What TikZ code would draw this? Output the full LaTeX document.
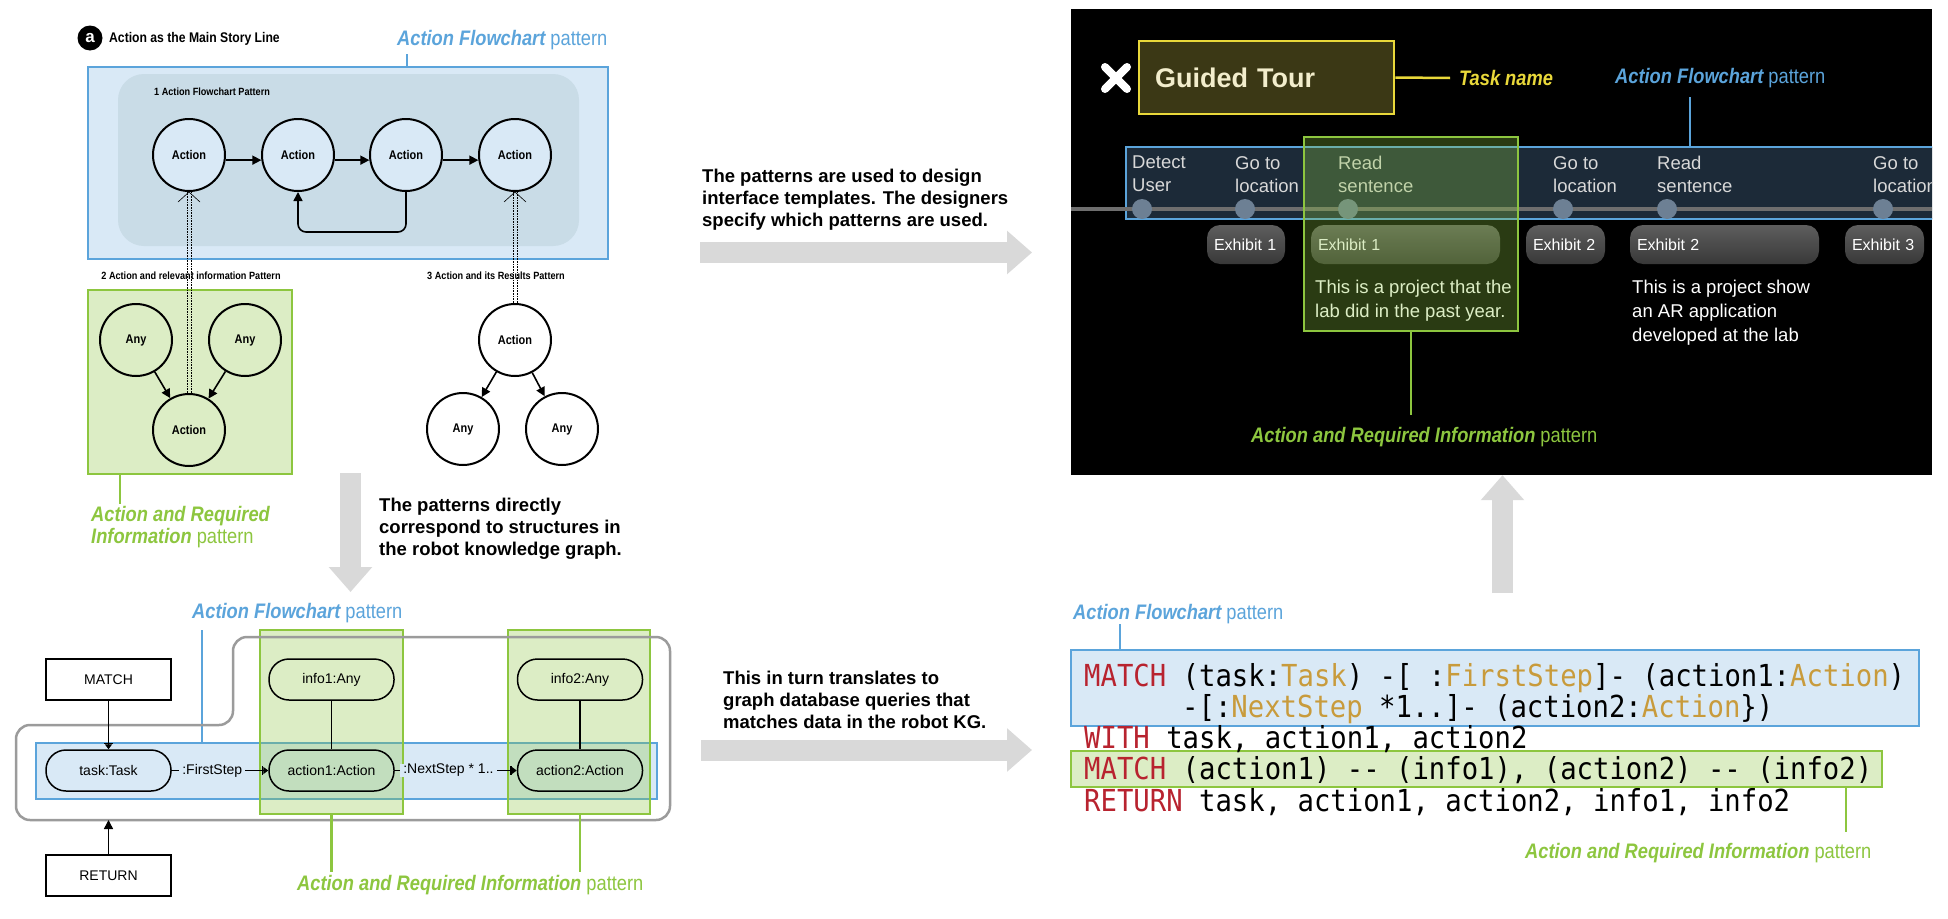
\documentclass[tikz,border=0pt]{standalone}
\usepackage{fontspec}
\setmainfont{Liberation Sans}
\newfontfamily\narrowfont[FakeStretch=0.87]{Liberation Sans}
\newfontfamily\codefont[FakeStretch=0.9]{DejaVu Sans Mono}
\usetikzlibrary{arrows.meta,positioning}

\definecolor{flowblue}{HTML}{5BA4DB}
\definecolor{bluefill}{HTML}{D9E9F6}
\definecolor{innerfill}{HTML}{C9DCE7}
\definecolor{reqgreen}{HTML}{8DC63F}
\definecolor{outlinegray}{HTML}{9B9B9B}
\definecolor{arrowgray}{HTML}{D9D9D9}
\definecolor{taskyellow}{HTML}{E9D83A}
\definecolor{taskfill}{HTML}{3B3815}
\definecolor{tourtext}{HTML}{F2EDCC}
\definecolor{bandfill}{HTML}{1C2A38}
\definecolor{linegray}{HTML}{6E6E6E}
\definecolor{dotfill}{HTML}{6D8094}
\definecolor{labelgray}{HTML}{D8D8D8}
\definecolor{pilltop}{HTML}{5E5E5E}
\definecolor{pillbot}{HTML}{383838}
\definecolor{kwred}{HTML}{B8232F}
\definecolor{kwgold}{HTML}{C89B3C}

\newcommand{\fsz}[2]{\fontsize{#1}{#2}\selectfont}
\newcommand{\flowtext}{{\bfseries\itshape Action Flowchart} pattern}
\newcommand{\reqtext}{{\bfseries\itshape Action and Required Information} pattern}

\begin{document}
\begin{tikzpicture}[x=1pt,y=-1pt,
  txt/.style={inner sep=0pt},
  patlab/.style={txt,font=\narrowfont\fsz{21}{22}},
  flowlab/.style={patlab,text=flowblue,anchor=west},
  reqlab/.style={patlab,text=reqgreen,anchor=west},
  flowlink/.style={draw=flowblue,line width=2.5pt},
  reqlink/.style={draw=reqgreen,line width=2.5pt},
  flowbox/.style={draw=flowblue,line width=2.5pt,fill=bluefill,inner sep=0pt},
  reqbox/.style={draw=reqgreen,line width=2.5pt,fill=reqgreen,fill opacity=0.3,inner sep=0pt},
  actnode/.style={circle,draw,line width=2pt,minimum size=72pt,inner sep=0pt,font=\narrowfont\bfseries\fsz{12.6}{14}},
  flowarrow/.style={line width=1.6pt,-{Triangle[length=9pt,width=9pt]}},
  pill/.style={draw,line width=1.5pt,rounded corners=20pt,minimum width=125pt,minimum height=41pt,font=\fsz{14}{16}},
  qbox/.style={draw,line width=1.5pt,minimum width=125pt,minimum height=41pt,font=\fsz{14}{16}},
  teearrow/.style={line width=1.3pt,-{Bar[width=9pt]Triangle[length=5pt,width=7pt]}},
  bigarrow/.style={arrowgray,line width=21pt,-{Triangle[length=25pt,width=42pt]}},
  note/.style={txt,align=left,anchor=north west,font=\bfseries\fsz{18.5}{22}},
  tllabel/.style={txt,align=left,anchor=north west,text=labelgray,font=\fsz{18.5}{23}},
  exhibit/.style={rounded corners=13pt,top color=pilltop,bottom color=pillbot,minimum height=39pt,inner xsep=7pt,inner ysep=0pt,align=left,text=white,font=\fsz{16}{18}},
  codeline/.style={txt,anchor=base west,font=\codefont\fsz{30.3}{31}}]
\useasboundingbox (0,0) rectangle (1948,918);
\fill[white] (0,0) rectangle (1948,918);

% ---- panel a: action as the main story line ----
\node[circle,fill=black,text=white,inner sep=0pt,minimum size=25pt,font=\bfseries\fsz{17}{17}] (tagA) at (90,38) {a};
\node[txt,anchor=west,font=\narrowfont\bfseries\fsz{14}{16}] (titleA) at (109,39) {Action as the Main Story Line};

% flowchart pattern
\node[flowbox,minimum width=520pt,minimum height=192pt] (flowA) at (348,163) {};
\node[fill=innerfill,rounded corners=26pt,minimum width=461pt,minimum height=172pt,inner sep=0pt] (innerA) at (348.5,160) {};
\node[txt,anchor=west,font=\narrowfont\bfseries\fsz{10.5}{12}] (pat1) at (154,92) {1 Action Flowchart Pattern};
\node[flowlab] (flowlabA) at (397,40) {\flowtext};
\coordinate (flowpinA) at (407,54);
\draw[flowlink] (flowpinA) -- (flowpinA |- flowA.north);
\foreach \i/\x in {1/189,2/298,3/406,4/515}
  \node[actnode,fill=bluefill] (a\i) at (\x,155) {Action};
\draw[flowarrow] (a1.-8) -- (a2.188);
\draw[flowarrow] (a2.-8) -- (a3.188);
\draw[flowarrow] (a3.-8) -- (a4.188);
\draw[flowarrow,rounded corners=8pt] (a3.south) -- ++(0,40) -| (a2.south);

% relevant information and results patterns
\node[txt,font=\narrowfont\bfseries\fsz{10.5}{12}] (pat2) at (191,276) {2 Action and relevant information Pattern};
\node[txt,font=\narrowfont\bfseries\fsz{10.5}{12}] (pat3) at (496,276) {3 Action and its Results Pattern};
\node[reqbox,minimum width=204pt,minimum height=184pt] (reqA) at (190,382) {};
\foreach \n/\x in {1/136,2/245}
  \node[actnode] (any\n) at (\x,340) {Any};
\node[actnode] (act0) at (189,430) {Action};
\draw[flowarrow] (any1) -- (act0);
\draw[flowarrow] (any2) -- (act0);
\node[actnode,fill=white] (tact) at (515,340) {Action};
\node[actnode,fill=white] (tany1) at (463,429) {Any};
\node[actnode,fill=white] (tany2) at (562,429) {Any};
\draw[flowarrow] (tact) -- (tany1);
\draw[flowarrow] (tact) -- (tany2);

% dotted links into the flowchart
\foreach \s in {-2,2}{
  \draw[densely dotted,line width=0.6pt] ([xshift=\s pt]act0.north) -- ([xshift=\s pt]a1.south);
  \draw[densely dotted,line width=0.6pt] ([xshift=\s pt]tact.north) -- ([xshift=\s pt]a4.south);
}
\draw[line width=0.6pt] ([shift={(-11,10)}]a1.south) -- (a1.south) -- ([shift={(11,10)}]a1.south);
\draw[line width=0.6pt] ([shift={(-11,10)}]a4.south) -- (a4.south) -- ([shift={(11,10)}]a4.south);

\node[txt,anchor=north west,align=left,text=reqgreen,font=\narrowfont\fsz{21}{22}] (reqlabA) at (91,506) {{\bfseries\itshape Action and Required}\\{\bfseries\itshape Information} pattern};
\coordinate (reqpinA) at (120,504);
\draw[reqlink] (reqA.south -| reqpinA) -- (reqpinA);

% ---- arrows and notes between the panels ----
\coordinate (downtop) at (350.5,473);
\coordinate (downtip) at (350.5,592);
\draw[bigarrow] (downtop) -- (downtip);
\node[note] (noteL) at (379,498) {The patterns directly\\correspond to structures in\\the robot knowledge graph.};
\node[note] (noteT) at (702,169) {The patterns are used to design\\interface templates. The designers\\specify which patterns are used.};
\coordinate (rtailT) at (700,252.5);
\coordinate (rtipT) at (1032,252.5);
\draw[bigarrow] (rtailT) -- (rtipT);
\node[note] (noteB) at (723,671) {This in turn translates to\\graph database queries that\\matches data in the robot KG.};
\coordinate (rtailB) at (701,750);
\coordinate (rtipB) at (1032,750);
\draw[bigarrow] (rtailB) -- (rtipB);

% ---- query graph ----
\node[flowlab] (flowlabB) at (192,613) {\flowtext};
\node[flowbox,minimum width=621pt,minimum height=56pt] (flowB) at (346.5,771) {};
\coordinate (flowpinB) at (202,630);
\draw[flowlink] (flowpinB) -- (flowpinB |- flowB.north);
\node[reqbox,minimum width=143pt,minimum height=184pt] (reqB1) at (331.5,722) {};
\node[reqbox,minimum width=142pt,minimum height=184pt] (reqB2) at (579,722) {};
\draw[outlinegray,line width=2.5pt,rounded corners=14pt] (16,725) -- (233,725) -- (233,637) -- (670,637) -- (670,820) -- (16,820) -- cycle;
\node[qbox] (match) at (108.5,679.5) {MATCH};
\node[pill] (task) at (108.5,770.5) {task:Task};
\node[pill] (info1) at (331.5,679.5) {info1:Any};
\node[pill] (act1) at (331.5,770.5) {action1:Action};
\node[pill] (info2) at (580,679.5) {info2:Any};
\node[pill] (act2) at (580,770.5) {action2:Action};
\node[qbox] (ret) at (108.5,875.5) {RETURN};
\draw[teearrow] (match) -- (task);
\draw[teearrow] (task) -- node[txt,fill=bluefill,inner xsep=3pt,pos=0.42,font=\fsz{14}{16}] {:FirstStep} (act1);
\draw[teearrow] (act1) -- node[txt,fill=bluefill,inner xsep=3pt,pos=0.44,font=\fsz{14}{16}] {:NextStep * 1..} (act2);
\draw[line width=1.5pt] (info1) -- (act1);
\draw[line width=1.5pt] (info2) -- (act2);
\coordinate (retpin) at (108.5,820);
\draw[line width=1.5pt,-{Triangle[length=9pt,width=9pt]}] (ret) -- (retpin);
\node[reqlab] (reqlabB) at (297,885) {\reqtext};
\coordinate (reqpinB) at (0,872);
\draw[reqlink] (reqB1.south) -- (reqB1.south |- reqpinB);
\draw[reqlink] (reqB2.south -| act2) -- (act2 |- reqpinB);

% ---- interface template on the robot screen ----
\node[fill=black,inner sep=0pt,minimum width=861pt,minimum height=466pt] (screen) at (1501.5,242) {};
\begin{scope}
\clip (screen.north west) rectangle (screen.south east);
\draw[white,line width=8pt,line cap=round] (1105,67) -- (1127,89) (1105,89) -- (1127,67);
\node[draw=taskyellow,line width=2.5pt,fill=taskfill,minimum width=255pt,minimum height=73pt,text width=223pt,inner xsep=16pt,align=left,text=tourtext,font=\bfseries\fsz{27}{30}] (tour) at (1266.5,77.5) {Guided Tour};
\node[txt,anchor=west,text=taskyellow,font=\narrowfont\bfseries\itshape\fsz{21}{22}] (tasklab) at (1459,78) {Task name};
\draw[taskyellow,line width=2.5pt] (tour.east) -- ([xshift=-9pt]tasklab.west);
\node[flowlab] (flowlabS) at (1615,78) {\flowtext};
\node[draw=flowblue,line width=2.5pt,fill=bandfill,minimum width=830pt,minimum height=72pt,inner sep=0pt] (band) at (1541,183) {};
\coordinate (flowpinS) at (1690,97);
\draw[flowlink] (flowpinS) -- (flowpinS |- band.north);
\coordinate (tlstart) at (1071,209);
\coordinate (tlend) at (1932,209);
\draw[linegray,line width=4pt] (tlstart) -- (tlend);
\foreach \x/\a/\b [count=\k] in {1142/Detect/User,1245/Go to/location,1348/Read/sentence,1563/Go to/location,1667/Read/sentence,1883/Go to/location}{
  \node[circle,fill=dotfill,minimum size=20pt,inner sep=0pt] (dot\k) at (\x,209) {};
  \node[tllabel] (step\k) at (\x-10,156) {\a\\\b};
}
\node[exhibit,text width=64pt] (ex1) at (1246,244.5) {Exhibit 1};
\node[exhibit,text width=175pt] (ex1b) at (1405.5,244.5) {Exhibit 1};
\node[exhibit,text width=65pt] (ex2) at (1565.5,244.5) {Exhibit 2};
\node[exhibit,text width=175pt] (ex2b) at (1724.5,244.5) {Exhibit 2};
\node[exhibit,text width=65pt] (ex3) at (1884.5,244.5) {Exhibit 3};
\node[txt,align=left,anchor=north west,text=white,font=\fsz{18.5}{24}] (desc1) at (1315,280) {This is a project that the\\lab did in the past year.};
\node[txt,align=left,anchor=north west,text=white,font=\fsz{18.5}{24}] (desc2) at (1632,280) {This is a project show\\an AR application\\developed at the lab};
\node[reqbox,minimum width=214pt,minimum height=194pt] (reqS) at (1411,234) {};
\coordinate (reqpinS) at (1411,415);
\draw[reqlink] (reqS.south) -- (reqpinS);
\node[reqlab] (reqlabS) at (1251,437) {\reqtext};
\end{scope}

% ---- cypher query ----
\coordinate (upfoot) at (1502.5,593);
\draw[bigarrow] (upfoot) -- (upfoot |- screen.south);
\node[flowlab] (flowlabC) at (1073,614) {\flowtext};
\node[flowbox,minimum width=848pt,minimum height=76pt] (flowC) at (1495,688) {};
\coordinate (flowpinC) at (1120,624);
\draw[flowlink] (flowpinC) -- (flowpinC |- flowC.north);
\node[reqbox,minimum width=811pt,minimum height=36pt] (reqC) at (1476.5,769) {};
\node[codeline] (q1) at (1084,686) {\textcolor{kwred}{MATCH} (task:\textcolor{kwgold}{Task}) -[ :\textcolor{kwgold}{FirstStep}]- (action1:\textcolor{kwgold}{Action})};
\node[codeline] (q2) at (1182,717) {-[:\textcolor{kwgold}{NextStep} *1..]- (action2:\textcolor{kwgold}{Action}\})};
\node[codeline] (q3) at (1084,748) {\textcolor{kwred}{WITH} task, action1, action2};
\node[codeline] (q4) at (1084,779) {\textcolor{kwred}{MATCH} (action1) -{}- (info1), (action2) -{}- (info2)};
\node[codeline] (q5) at (1084,811) {\textcolor{kwred}{RETURN} task, action1, action2, info1, info2};
\coordinate (reqpinC) at (1846,832);
\draw[reqlink] (reqC.south -| reqpinC) -- (reqpinC);
\node[reqlab] (reqlabC) at (1525,853) {\reqtext};
\end{tikzpicture}
\end{document}
